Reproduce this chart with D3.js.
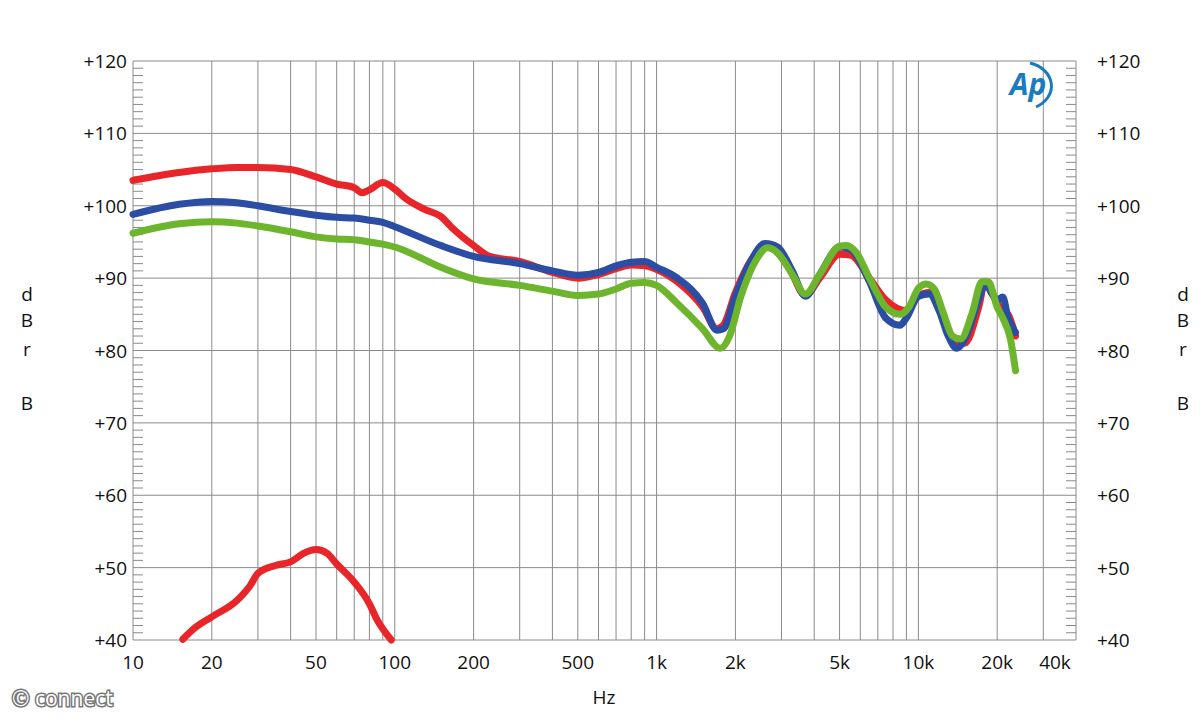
<!DOCTYPE html>
<meta charset="utf-8">
<style>
body{margin:0;background:#fff;}
text{font-family:"Open Sans",sans-serif;fill:#111;}
.grid line{stroke:#8a8a8a;stroke-width:1;}
.curve{fill:none;stroke-width:7;stroke-linejoin:round;stroke-linecap:round;}
</style>
<body>
<script src="https://cdn.jsdelivr.net/npm/d3@7"></script>
<script>
var xTicks = [10,20,50,100,200,500,1000,2000,5000,10000,20000,40000];
var xTickLabels = ["10","20","50","100","200","500","1k","2k","5k","10k","20k","40k"];
var yTicks = [40,50,60,70,80,90,100,110,120];

var redMain = [[10,103.5],[15,104.6],[20,105.1],[25,105.3],[30,105.3],[40,105.0],[50,104.0],[60,103.0],[70,102.5],[75,101.8],[80,102.2],[90,103.2],[100,102.3],[110,101.0],[130,99.5],[150,98.5],[165,97.0],[200,94.5],[230,93.0],[300,92.3],[400,90.8],[500,90.0],[600,90.5],[700,91.3],[800,91.8],[900,91.7],[1000,91.2],[1200,89.5],[1500,86],[1700,83],[1800,83.5],[2000,88],[2300,92.5],[2600,94.4],[2800,94.0],[3200,91.5],[3700,87.6],[4200,90],[5000,93.3],[5500,93.2],[6500,90],[7500,87],[9000,85.5],[10000,87.5],[11000,88],[12000,86],[14000,81.0],[15000,81],[17000,86],[18000,89.5],[19000,88],[21000,85.5],[22000,85],[23500,82]];
var redLow = [[15.5,40.1],[17,41.5],[20,43.2],[25,45.5],[28,47.5],[30,49.2],[35,50.3],[40,50.8],[45,52.0],[50,52.5],[55,52.0],[60,50.5],[70,48],[80,45],[85,43],[97,40]];
var blue = [[10,98.8],[15,100.2],[20,100.6],[25,100.4],[30,100.0],[40,99.2],[50,98.7],[60,98.4],[70,98.3],[80,98.0],[90,97.7],[100,97.1],[150,94.5],[200,93.0],[300,92.0],[400,91.0],[500,90.4],[600,90.8],[700,91.7],[800,92.2],[900,92.3],[1000,91.5],[1200,90],[1500,86.5],[1700,82.8],[1800,83],[2000,87.5],[2300,92.5],[2600,94.8],[2900,94.3],[3300,91],[3700,87.5],[4200,90.5],[5000,94.3],[5500,94.0],[6500,89.5],[7500,84.5],[8500,83.5],[9000,84.5],[10000,87.5],[11000,87.8],[12000,85.5],[13000,82],[14000,80.3],[15000,81.5],[17000,87],[18000,89.3],[19000,88],[20000,87],[21000,87.4],[22000,84.5],[23500,82.5]];
var green = [[10,96.2],[15,97.5],[20,97.8],[25,97.6],[30,97.2],[40,96.4],[50,95.7],[60,95.4],[70,95.3],[80,95.0],[90,94.7],[100,94.3],[150,91.5],[200,89.9],[300,89.0],[400,88.2],[500,87.6],[600,87.8],[700,88.5],[800,89.3],[900,89.4],[1000,89.0],[1200,86.5],[1500,83.0],[1750,80.3],[1900,82],[2100,87.5],[2400,92.5],[2650,94.2],[2900,93.5],[3300,90.5],[3700,87.8],[4200,90.5],[5000,94.4],[5300,94.5],[5800,93.5],[6500,90],[7500,86],[8500,85],[9200,86.0],[10000,88.6],[10700,89.2],[11500,88.5],[12500,85],[13500,82],[14500,81.6],[16000,85],[17500,89.5],[18500,89.5],[20000,86],[21000,84.5],[22500,81.5],[23500,77.2]];

var width = 1200, height = 720;
var svg = d3.select("body").append("svg").attr("width", width).attr("height", height);

var x = d3.scaleLog().domain([10,40000]).range([133,1076]);
var y = d3.scaleLinear().domain([40,120]).range([640,61]);

// vertical grid at 1..9 x decade
var vlines = [];
for (var d = 10; d < 40000; d *= 10) {
  for (var m = 1; m < 10; m++) { if (d*m <= 30000 && d*m > 10) vlines.push(d*m); }
}
var grid = svg.append("g").attr("class","grid");
grid.selectAll(".v").data(vlines).enter().append("line")
  .attr("x1", x).attr("x2", x).attr("y1", y(120)).attr("y2", y(40));
grid.selectAll(".h").data(yTicks).enter().append("line")
  .attr("x1", x(10)).attr("x2", x(40000)).attr("y1", y).attr("y2", y);
grid.append("line").attr("x1",x(10)).attr("x2",x(10)).attr("y1",y(120)).attr("y2",y(40));
grid.append("line").attr("x1",x(40000)).attr("x2",x(40000)).attr("y1",y(120)).attr("y2",y(40));

// minor ticks every 1 dB
var minor = d3.range(41,120).filter(function(v){ return v % 10 != 0; });
grid.selectAll(".ml").data(minor).enter().append("line")
  .attr("x1", x(10)).attr("x2", x(10)+10).attr("y1", y).attr("y2", y);
grid.selectAll(".mr").data(minor).enter().append("line")
  .attr("x1", x(40000)-10).attr("x2", x(40000)).attr("y1", y).attr("y2", y);

svg.selectAll(".yl").data(yTicks).enter().append("text")
  .attr("x", 127).attr("y", function(d){ return y(d)+7; })
  .attr("text-anchor","end").attr("font-size",19)
  .text(function(d){ return "+" + d; });
svg.selectAll(".yr").data(yTicks).enter().append("text")
  .attr("x", 1097).attr("y", function(d){ return y(d)+7; })
  .attr("font-size",19)
  .text(function(d){ return "+" + d; });

svg.selectAll(".xl").data(xTicks).enter().append("text")
  .attr("x", function(d,i){ return i == xTicks.length-1 ? 1055 : x(d); })
  .attr("y", 669).attr("text-anchor","middle").attr("font-size",19)
  .text(function(d,i){ return xTickLabels[i]; });

svg.append("text").attr("x",604).attr("y",704).attr("text-anchor","middle").attr("font-size",19).text("Hz");

[[27,"d",301],[27,"B",327],[27,"r",356],[27,"B",410],[1183,"d",301],[1183,"B",327],[1183,"r",356],[1183,"B",410]].forEach(function(t){
  svg.append("text").attr("x",t[0]).attr("y",t[2]).attr("text-anchor","middle").attr("font-size",19).text(t[1]);
});

var line = d3.line().x(function(d){ return x(d[0]); }).y(function(d){ return y(d[1]); }).curve(d3.curveMonotoneX);
svg.append("path").datum(redMain).attr("class","curve").attr("stroke","#e8262a").attr("d", line);
svg.append("path").datum(redLow).attr("class","curve").attr("stroke","#e8262a").attr("d", line);
svg.append("path").datum(blue).attr("class","curve").attr("stroke","#2b4da3").attr("d", line);
svg.append("path").datum(green).attr("class","curve").attr("stroke","#6cb52d").attr("d", line);

// Ap logo
var logo = svg.append("g").attr("transform","translate(1040,85)");
logo.append("path").attr("d","M-10,-22 A30,24 0 0 1 -4,22").attr("fill","none").attr("stroke","#1a7bbf").attr("stroke-width",3);
logo.append("text").attr("x",-12).attr("y",10).attr("text-anchor","middle")
  .attr("font-size",30).attr("font-style","italic").attr("font-weight","bold")
  .style("fill","#1a7bbf").text("Ap");

// watermark
svg.append("text").attr("x",12).attr("y",706).attr("font-size",21)
  .style("fill","#fff").style("stroke","#777").style("stroke-width",3).style("paint-order","stroke")
  .text("\u00a9 connect");
</script>
